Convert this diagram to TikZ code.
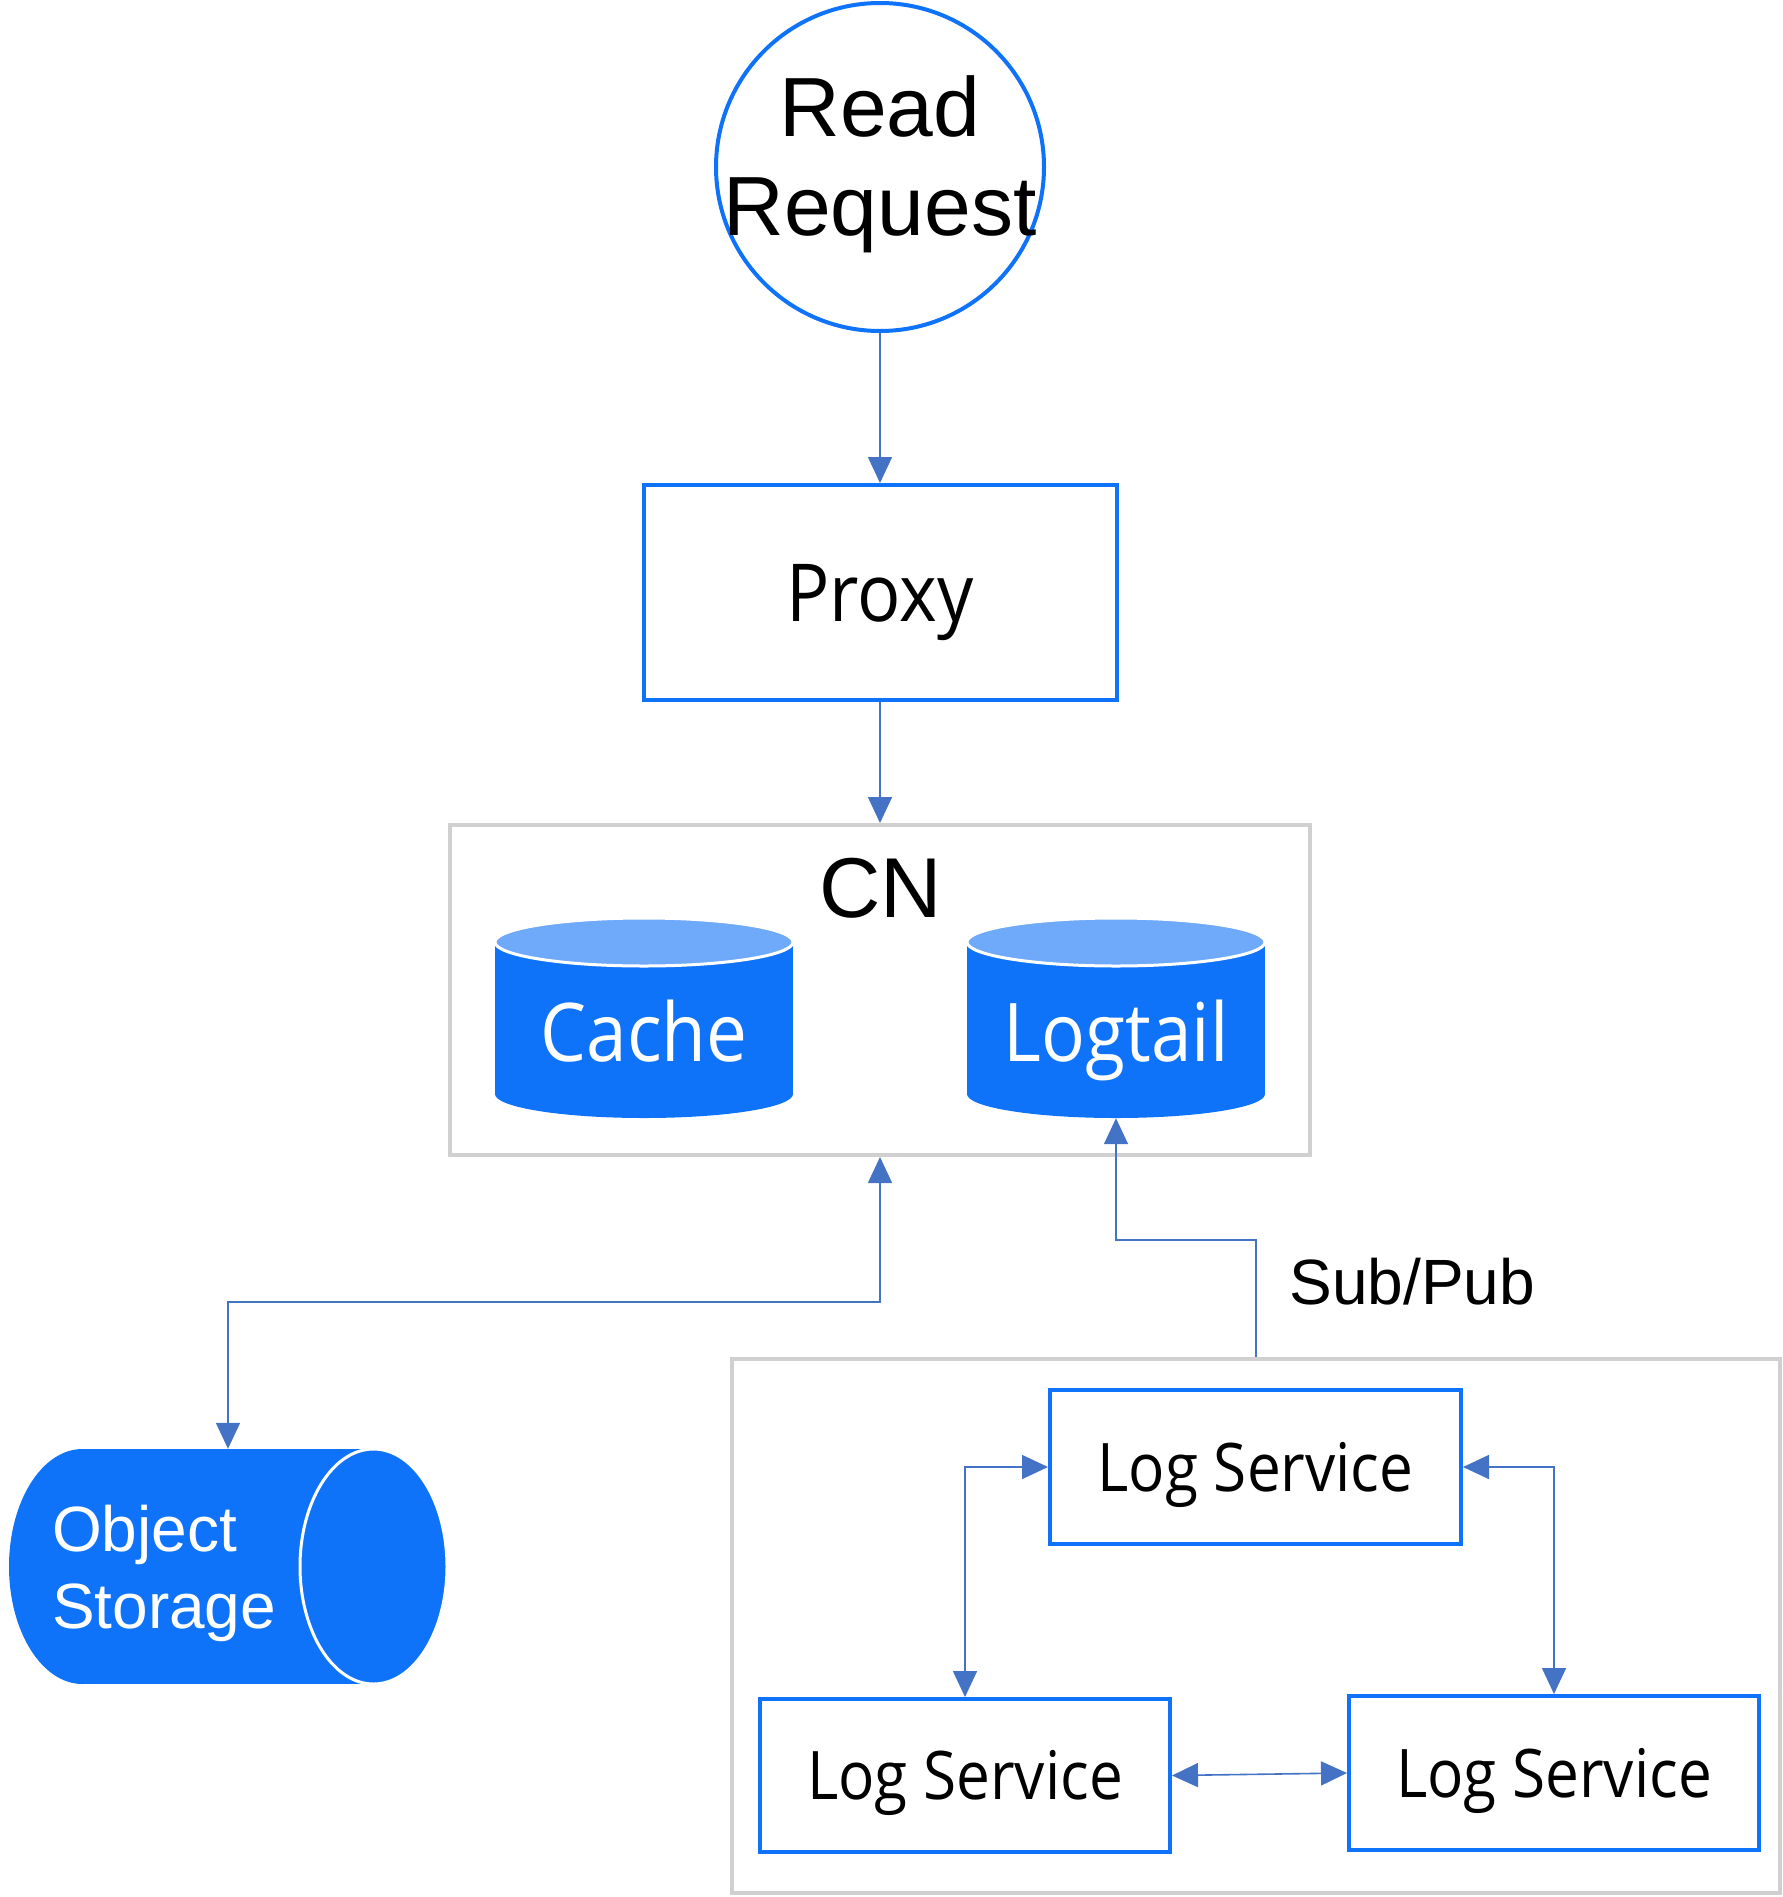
\documentclass[tikz,border=0pt]{standalone}
\usepackage{fontspec}
\setmainfont{Liberation Sans}
\newfontfamily\yh[FakeStretch=0.9]{Open Sans}
\usetikzlibrary{arrows.meta}
\definecolor{cblue}{HTML}{0F73FA}
\definecolor{ctop}{HTML}{6EA9FA}
\definecolor{cline}{HTML}{4472C4}
\definecolor{cgray}{HTML}{D0D0D0}
\begin{document}
\begin{tikzpicture}[x=1pt,y=-1pt,
  >={Triangle[length=26pt,width=24pt]},
  bluebox/.style={draw=cblue, line width=4pt, fill=white, inner sep=0pt},
  lsbox/.style={bluebox, font=\yh\fontsize{67}{80}\selectfont, text height=48pt, text depth=0pt},
  graybox/.style={draw=cgray, line width=4pt, inner sep=0pt},
  conn/.style={draw=cline, line width=1.6pt},
  cyltext/.style={inner sep=0pt, text=white, font=\yh\fontsize{81}{90}\selectfont, text height=58pt, text depth=0pt}
]
\useasboundingbox (0,0) rectangle (1782,1897);

% Read Request
\node[circle, draw=cblue, line width=4pt, minimum size=328pt, inner sep=0pt, align=center,
      font=\fontsize{84}{99}\selectfont, text height=159pt, text depth=23pt]
  (req) at (880,167) {\makebox[0pt]{Read}\\\makebox[0pt]{Request}};

% Proxy
\node[bluebox, minimum width=473pt, minimum height=215pt,
      font=\yh\fontsize{80}{90}\selectfont, text height=57pt, text depth=0pt]
  (proxy) at (880,592.5) {Proxy};

% CN container
\node[graybox, minimum width=860pt, minimum height=330pt] (cn) at (880,990) {};
\node[anchor=base, font=\fontsize{85}{99}\selectfont] (cnlabel) at (881,917) {CN};

% Cache cylinder
\fill[cblue] (495,942) rectangle (793,1094);
\fill[cblue] (644,1094) ellipse [x radius=149, y radius=24];
\filldraw[fill=ctop, draw=white, line width=3pt] (644,942) ellipse [x radius=149, y radius=24];
\node[cyltext, minimum width=298pt, minimum height=172pt] (cache) at (644,1032) {Cache};

% Logtail cylinder
\fill[cblue] (967,942) rectangle (1265,1094);
\fill[cblue] (1116,1094) ellipse [x radius=149, y radius=24];
\filldraw[fill=ctop, draw=white, line width=3pt] (1116,942) ellipse [x radius=149, y radius=24];
\node[cyltext, minimum width=298pt, minimum height=172pt] (logtail) at (1116,1032) {Logtail};

% Object Storage
\fill[cblue] (82.5,1449) rectangle (373.5,1684);
\fill[cblue] (82.5,1566.5) ellipse [x radius=73.5, y radius=117.5];
\filldraw[fill=cblue, draw=white, line width=3pt] (373.5,1566.5) ellipse [x radius=73.5, y radius=117.5];
\node[inner sep=0pt, minimum width=438pt, minimum height=235pt, text=white,
      text width=352pt, align=left, font=\fontsize{64}{77}\selectfont,
      text height=46pt, text depth=77pt]
  (objst) at (228,1566.5) {Object\\Storage};

% Log service group
\node[graybox, minimum width=1048pt, minimum height=534pt] (grp) at (1256,1626) {};
\node[lsbox, minimum width=411pt, minimum height=154pt] (lsT) at (1255.5,1467) {Log Service};
\node[lsbox, minimum width=410pt, minimum height=153pt] (lsL) at (965,1775.5) {Log Service};
\node[lsbox, minimum width=410pt, minimum height=154pt] (lsR) at (1554,1773) {Log Service};

\node[anchor=base west, font=\fontsize{64}{77}\selectfont] (subpub) at (1286,1304) {Sub/Pub};

% connectors
\draw[conn, ->] (req.south) -- (proxy.north);
\draw[conn, ->] (proxy.south) -- (cn.north);
\draw[conn, <->] (objst.north) |- ([yshift=-145pt]cn.south) -- (cn.south);
\draw[conn, ->] (grp.north) |- ([yshift=-122pt]logtail.south) -- (logtail.south);
\draw[conn, <->] (lsL.north) |- (lsT.west);
\draw[conn, <->] (lsT.east) -| (lsR.north);
\draw[conn, <->] (lsL.east) -- (lsR.west);
\end{tikzpicture}
\end{document}
